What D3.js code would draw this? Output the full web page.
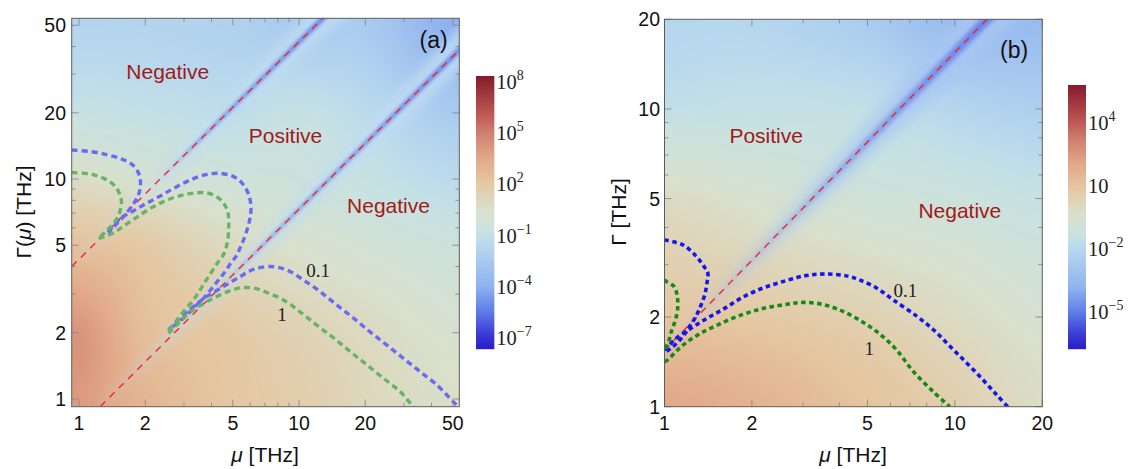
<!DOCTYPE html>
<html><head><meta charset="utf-8">
<script src="https://cdn.jsdelivr.net/npm/d3@7"></script>
<style>body{margin:0;background:#fff;} svg{display:block;}</style>
</head><body>
<script>
// ================= DATA =================
// ---- panel (a) ----
const aTicks = [1, 2, 5, 10, 20, 50];
const aGridMu = [1, 2, 5, 10, 20, 50];
const aGridGamma = [1, 2, 5, 10, 20, 50];
// log10 of the plotted quantity, rows = Γ (1..50), cols = μ (1..50)
const aLogField = [
  [4.0, 2.9, 2.1, 1.7, 1.1, 0.6],
  [4.2, 2.5, 1.9, 1.4, 0.9, 0.3],
  [2.4, 1.9, 0.9, 0.4, 0.0, -0.4],
  [0.7, 0.2, -0.2, -0.4, -0.8, -1.4],
  [-0.8, -1.0, -1.2, -0.9, -1.4, -2.4],
  [-1.8, -1.8, -2.0, -2.4, -2.4, -4.0]
];
const aRedLines = [
  [[0.926, 4.0], [12.8, 53.7]],
  [[1.25, 0.925], [53.5, 38.6]]
];
const aBlueUpper = [[0.926,13.55],[1.146,13.3],[1.36,12.85],[1.57,12.3],[1.74,11.66],[1.85,10.8],[1.90,9.9],[1.89,8.91],[1.83,8.17],[1.74,7.54],[1.65,7.03],[1.54,6.51],[1.44,6.07],[1.355,5.70]];
const aBlueMiddle = [[1.36,5.76],[1.54,6.62],[1.74,7.10],[2.0,7.70],[2.34,8.37],[2.74,9.16],[3.26,9.97],[3.82,10.5],[4.39,10.6],[5.05,10.25],[5.55,9.49],[5.91,8.46],[6.05,7.36],[5.94,6.40],[5.70,5.56],[5.41,4.89],[5.17,4.45],[4.90,4.15],[4.61,3.79],[4.30,3.47],[4.01,3.18],[3.74,2.92],[3.49,2.72],[3.25,2.54],[2.98,2.33],[2.73,2.17],[2.55,2.05]];
const aBlueLower = [[2.55,2.06],[2.88,2.33],[3.31,2.63],[3.80,2.92],[4.53,3.24],[5.39,3.60],[6.2,3.88],[7.38,4.0],[8.79,3.86],[10.5,3.47],[12.5,3.07],[14.8,2.68],[17.7,2.33],[21.0,2.02],[25.0,1.76],[29.8,1.53],[35.5,1.33],[42.2,1.16],[50.3,0.97],[54,0.90]];
const aGreenUpper = [[0.926,10.7],[1.146,10.5],[1.295,10.07],[1.413,9.55],[1.50,8.9],[1.556,8.03],[1.54,7.23],[1.49,6.62],[1.40,6.11],[1.318,5.76],[1.228,5.37]];
const aGreenMiddle = [[1.228,5.37],[1.413,5.65],[1.624,6.18],[1.867,6.79],[2.147,7.43],[2.47,7.97],[2.84,8.37],[3.26,8.61],[3.75,8.67],[4.17,8.37],[4.55,7.75],[4.76,6.98],[4.79,6.07],[4.74,5.28],[4.58,4.62],[4.30,4.21],[4.01,3.79],[3.74,3.41],[3.55,3.13],[3.31,2.82],[3.03,2.54],[2.83,2.33],[2.64,2.13],[2.50,1.99]];
const aGreenLower = [[2.55,1.99],[2.78,2.17],[3.09,2.41],[3.49,2.63],[4.08,2.87],[4.86,3.11],[5.58,3.21],[6.31,3.18],[7.13,3.05],[8.49,2.82],[10.1,2.49],[12.0,2.17],[14.3,1.90],[17.1,1.64],[20.3,1.43],[24.2,1.24],[28.8,1.08],[32.5,0.94],[34,0.89]];
const aContourLabels = [["0.1", 12.2, 3.83], ["1", 8.37, 2.43]];
const aRegionLabels = [["Negative", 2.53, 28.5], ["Positive", 8.68, 14.6], ["Negative", 25.5, 7.01]];
const aPanelTag = ["(a)", 40.9, 39.4];
const aBarTicks = [8, 5, 2, -1, -4, -7];
const aBarRange = [-7.65, 8.35];

// ---- panel (b) ----
const bTicks = [1, 2, 5, 10, 20];
const bGridMu = [1, 2, 5, 10, 20];
const bGridGamma = [1, 2, 5, 10, 20];
const bLogField = [
  [2.0, 1.65, 1.0, 0.5, -0.2],
  [0.9, 0.77, 0.4, -0.1, -0.6],
  [-0.1, -0.5, -0.9, -1.1, -1.4],
  [-1.6, -1.5, -1.6, -2.1, -2.4],
  [-2.1, -2.1, -2.6, -3.4, -3.4]
];
const bRedLines = [[[1.0, 1.55], [12.9, 20]]];
const bBlueUpper = [[1.0,3.63],[1.16,3.49],[1.29,3.19],[1.37,2.95],[1.41,2.81],[1.40,2.60],[1.375,2.37],[1.33,2.17],[1.28,2.0],[1.224,1.87],[1.167,1.74],[1.107,1.64],[1.05,1.57],[1.0,1.52]];
const bBlueLower = [[1.0,1.55],[1.10,1.70],[1.23,1.83],[1.40,1.98],[1.60,2.13],[1.83,2.31],[2.15,2.49],[2.52,2.62],[3.03,2.75],[3.6,2.79],[4.3,2.74],[4.72,2.66],[5.39,2.50],[6.15,2.28],[7.41,2.01],[8.45,1.81],[9.65,1.59],[11.0,1.40],[12.6,1.22],[14.0,1.09],[15.2,1.0]];
const bGreenUpper = [[1.0,2.67],[1.017,2.63],[1.08,2.53],[1.107,2.34],[1.11,2.14],[1.09,1.95],[1.06,1.81],[1.036,1.67],[1.004,1.55],[1.0,1.53]];
const bGreenLower = [[1.0,1.42],[1.02,1.43],[1.14,1.59],[1.30,1.74],[1.52,1.88],[1.83,2.03],[2.20,2.14],[2.65,2.21],[3.03,2.24],[3.55,2.20],[4.16,2.08],[4.87,1.91],[5.57,1.74],[6.3,1.55],[7.21,1.31],[8.45,1.12],[9.6,1.0]];
const bContourLabels = [["0.1", 6.75, 2.45], ["1", 5.07, 1.57]];
const bRegionLabels = [["Positive", 2.24, 7.69], ["Negative", 10.4, 4.30]];
const bPanelTag = ["(b)", 16.0, 14.8];
const bBarTicks = [4, 1, -2, -5];
const bBarRange = [-6.78, 5.81];

// ================= STYLE =================
const cmapT = [0, 0.05, 0.14, 0.23, 0.38, 0.43, 0.51, 0.61, 0.70, 0.79, 0.86, 1.0];
const cmapC = ['#2a1ec8','#3838d2','#5f7ee8','#8eb2f0','#b8d8ee','#c8e2e2','#d9e0cc','#e5c7a2','#e2a888','#d08070','#be5853','#861a2b'];
const cmap = d3.scaleLinear().domain(cmapT).range(cmapC).interpolate(d3.interpolateRgb).clamp(true);
const SANS = "'Liberation Sans', Arial, Helvetica, sans-serif";
const SERIF = "'Liberation Serif', 'Times New Roman', serif";

const svg = d3.select('body').append('svg').attr('width', 1137).attr('height', 469);
const defs = svg.append('defs');

function catmull(vals, fi) {
  const n = vals.length;
  let i = Math.floor(fi); if (i < 0) i = 0; if (i > n - 2) i = n - 2;
  const t = fi - i;
  const p0 = vals[Math.max(i - 1, 0)], p1 = vals[i], p2 = vals[i + 1], p3 = vals[Math.min(i + 2, n - 1)];
  return 0.5 * (2 * p1 + (-p0 + p2) * t + (2 * p0 - 5 * p1 + 4 * p2 - p3) * t * t + (-p0 + 3 * p1 - 3 * p2 + p3) * t * t * t);
}
function fracIndex(nodes, v) {
  const L = nodes.map(Math.log10); const lv = Math.log10(v);
  if (lv <= L[0]) return 0;
  if (lv >= L[L.length - 1]) return L.length - 1;
  for (let i = 0; i < L.length - 1; i++) {
    if (lv <= L[i + 1]) return i + (lv - L[i]) / (L[i + 1] - L[i]);
  }
  return L.length - 1;
}

function panel(cfg) {
  const { id, xs, ys, ticks, gridMu, gridGamma, field, barRange, redLines, curves, contourLabels, regionLabels, tag, valleys } = cfg;
  const [x0, x1] = xs.range(); const [yb, yt] = ys.range();
  const g = svg.append('g');
  defs.append('clipPath').attr('id', 'clip' + id).append('rect')
    .attr('x', x0).attr('y', yt).attr('width', x1 - x0).attr('height', yb - yt);
  const tOf = d3.scaleLinear().domain(barRange).range([0, 1]);

  // heatmap
  const W = Math.round(x1 - x0), H = Math.round(yb - yt);
  const cv = document.createElement('canvas'); cv.width = W; cv.height = H;
  const ctx = cv.getContext('2d'); const img = ctx.createImageData(W, H);
  for (let px = 0; px < W; px++) {
    const mu = xs.invert(x0 + (px + 0.5) * (x1 - x0) / W);
    const fm = fracIndex(gridMu, mu);
    const col = field.map(row => catmull(row, fm));
    for (let py = 0; py < H; py++) {
      const gam = ys.invert(yt + (py + 0.5) * (yb - yt) / H);
      const v = catmull(col, fracIndex(gridGamma, gam));
      const c = d3.rgb(cmap(tOf(v)));
      const k = (py * W + px) * 4;
      img.data[k] = c.r; img.data[k + 1] = c.g; img.data[k + 2] = c.b; img.data[k + 3] = 255;
    }
  }
  ctx.putImageData(img, 0, 0);
  const pg = g.append('g').attr('clip-path', `url(#clip${id})`);
  pg.append('image').attr('href', cv.toDataURL()).attr('x', x0).attr('y', yt)
    .attr('width', x1 - x0).attr('height', yb - yt).attr('preserveAspectRatio', 'none');

  // valleys along zero lines (blurred bands)
  valleys.forEach((v, vi) => {
    const L = redLines[v.line];
    const p0 = [xs(L[0][0]), ys(L[0][1])], p1 = [xs(L[1][0]), ys(L[1][1])];
    const dx = p1[0] - p0[0], dy = p1[1] - p0[1], len = Math.hypot(dx, dy);
    const nx = -dy / len, ny = dx / len;
    const e1 = [p1[0] + dx / len * 30, p1[1] + dy / len * 30];
    const gid = `vg${id}_${vi}`, fid = `vf${id}_${vi}`;
    const grad = defs.append('linearGradient').attr('id', gid).attr('gradientUnits', 'userSpaceOnUse')
      .attr('x1', p0[0]).attr('y1', p0[1]).attr('x2', p1[0]).attr('y2', p1[1]);
    v.stops.forEach(s => grad.append('stop').attr('offset', s[0]).attr('stop-color', v.color).attr('stop-opacity', s[1]));
    defs.append('filter').attr('id', fid).attr('x', '-50%').attr('y', '-50%').attr('width', '200%').attr('height', '200%')
      .append('feGaussianBlur').attr('stdDeviation', v.blur);
    const pts = [[p0[0] + nx * v.w0, p0[1] + ny * v.w0], [e1[0] + nx * v.w1, e1[1] + ny * v.w1],
                 [e1[0] - nx * v.w1, e1[1] - ny * v.w1], [p0[0] - nx * v.w0, p0[1] - ny * v.w0]];
    pg.append('path').attr('d', d3.line()(pts) + 'Z').attr('fill', `url(#${gid})`).attr('filter', `url(#${fid})`);
  });

  // red dashed lines
  redLines.forEach(L => {
    pg.append('line').attr('x1', xs(L[0][0])).attr('y1', ys(L[0][1])).attr('x2', xs(L[1][0])).attr('y2', ys(L[1][1]))
      .attr('stroke', cfg.redColor).attr('stroke-width', 1.4).attr('stroke-dasharray', '7,6');
  });

  // contours
  const line = d3.line().x(d => xs(d[0])).y(d => ys(d[1])).curve(d3.curveCatmullRom.alpha(0.5));
  curves.forEach(c => {
    pg.append('path').attr('d', line(c.data)).attr('fill', 'none').attr('stroke', c.color)
      .attr('stroke-width', c.width).attr('stroke-dasharray', c.dash);
  });

  // contour labels
  contourLabels.forEach(l => {
    g.append('text').attr('x', xs(l[1])).attr('y', ys(l[2])).attr('text-anchor', 'middle')
      .attr('dominant-baseline', 'central').attr('font-family', SERIF).attr('font-size', 19).attr('fill', '#222').text(l[0]);
  });
  regionLabels.forEach(l => {
    g.append('text').attr('x', xs(l[1])).attr('y', ys(l[2])).attr('text-anchor', 'middle')
      .attr('font-family', SANS).attr('font-size', 21).attr('fill', '#a01a1a').text(l[0]);
  });
  g.append('text').attr('x', xs(tag[1])).attr('y', ys(tag[2])).attr('text-anchor', 'middle')
    .attr('font-family', SANS).attr('font-size', 23).attr('fill', '#111').text(tag[0]);

  // frame ticks
  const minor = [];
  for (let d = -1; d <= 2; d++) for (let k = 1; k <= 9; k++) {
    const v = k * Math.pow(10, d);
    const dm = xs.domain();
    if (v >= dm[0] && v <= dm[1] && !ticks.includes(v)) minor.push(v);
  }
  const minorY = [];
  for (let d = -1; d <= 2; d++) for (let k = 1; k <= 9; k++) {
    const v = k * Math.pow(10, d);
    const dm = ys.domain();
    if (v >= dm[0] && v <= dm[1] && !ticks.includes(v)) minorY.push(v);
  }
  const tk = g.append('g').attr('stroke', '#8a8a8a').attr('stroke-width', 0.9);
  const addX = (v, len) => { const x = xs(v);
    tk.append('line').attr('x1', x).attr('x2', x).attr('y1', yb).attr('y2', yb - len);
    tk.append('line').attr('x1', x).attr('x2', x).attr('y1', yt).attr('y2', yt + len); };
  const addY = (v, len) => { const y = ys(v);
    tk.append('line').attr('y1', y).attr('y2', y).attr('x1', x0).attr('x2', x0 + len);
    tk.append('line').attr('y1', y).attr('y2', y).attr('x1', x1).attr('x2', x1 - len); };
  ticks.forEach(v => { addX(v, 7); addY(v, 7); });
  minor.forEach(v => addX(v, 4));
  minorY.forEach(v => addY(v, 4));
  g.append('rect').attr('x', x0).attr('y', yt).attr('width', x1 - x0).attr('height', yb - yt)
    .attr('fill', 'none').attr('stroke', '#5c5c5c').attr('stroke-width', 1);

  // tick labels
  ticks.forEach(v => {
    g.append('text').attr('x', xs(v)).attr('y', 430).attr('text-anchor', 'middle')
      .attr('font-family', SANS).attr('font-size', 19.5).attr('fill', '#111').text(v);
    g.append('text').attr('x', cfg.yLabelRight).attr('y', ys(v)).attr('text-anchor', 'end')
      .attr('dominant-baseline', 'central').attr('font-family', SANS).attr('font-size', 19.5).attr('fill', '#111').text(v);
  });

  // axis titles
  const xt = g.append('text').attr('x', cfg.xTitleX).attr('y', 462).attr('text-anchor', 'middle')
    .attr('font-family', SANS).attr('font-size', 21).attr('fill', '#111');
  xt.append('tspan').attr('font-style', 'italic').text('μ');
  xt.append('tspan').text(' [THz]');
  const yt2 = g.append('text').attr('transform', `translate(${cfg.yTitleX},212) rotate(-90)`)
    .attr('text-anchor', 'middle').attr('dominant-baseline', 'central')
    .attr('font-family', SANS).attr('font-size', 21).attr('fill', '#111');
  if (cfg.yTitleMu) {
    yt2.append('tspan').text('Γ(');
    yt2.append('tspan').attr('font-style', 'italic').text('μ');
    yt2.append('tspan').text(') [THz]');
  } else {
    yt2.append('tspan').text('Γ [THz]');
  }

  // colorbar
  const cb = cfg.bar;
  const cs = d3.scaleLinear().domain(barRange).range([cb.y1, cb.y0]);
  const rows = d3.range(Math.floor(cb.y0), Math.ceil(cb.y1));
  g.append('g').selectAll('rect').data(rows).join('rect')
    .attr('x', cb.x).attr('y', d => d).attr('width', cb.w).attr('height', 1.2)
    .attr('fill', d => cmap(tOf(cs.invert(d + 0.5))));
  cfg.barTicks.forEach(v => {
    const t = g.append('text').attr('x', cb.x + cb.w + 2).attr('y', cs(v) + 7)
      .attr('font-family', SERIF).attr('font-size', 20.5).attr('fill', '#222');
    t.append('tspan').text('10');
    if (v !== 1) t.append('tspan').attr('dy', -9).attr('font-size', 14)
      .text(v < 0 ? '\u2212' + (-v) : String(v));
  });
}

// panel (a)
panel({
  id: 'a',
  xs: d3.scaleLog().domain([0.926, 53.5]).range([71.7, 459.3]),
  ys: d3.scaleLog().domain([0.922, 53.8]).range([406.7, 18.3]),
  ticks: aTicks, gridMu: aGridMu, gridGamma: aGridGamma, field: aLogField, barRange: aBarRange,
  redLines: aRedLines, redColor: '#f02828',
  curves: [
    { data: aBlueUpper, color: '#6a6af2', width: 3.4, dash: '6,4' },
    { data: aBlueMiddle, color: '#6a6af2', width: 3.4, dash: '6,4' },
    { data: aBlueLower, color: '#6a6af2', width: 3.4, dash: '6,4' },
    { data: aGreenUpper, color: '#66b466', width: 3.4, dash: '6,4' },
    { data: aGreenMiddle, color: '#66b466', width: 3.4, dash: '6,4' },
    { data: aGreenLower, color: '#66b466', width: 3.4, dash: '6,4' }
  ],
  contourLabels: aContourLabels, regionLabels: aRegionLabels, tag: aPanelTag,
  valleys: [
    { line: 0, color: '#c0dcf2', w0: 4, w1: 16, blur: 5, stops: [[0, 0.1], [0.35, 0.4], [1, 0.8]] },
    { line: 0, color: '#6f8fea', w0: 1, w1: 3, blur: 1.5, stops: [[0, 0], [0.35, 0], [0.5, 0.6], [1, 0.95]] },
    { line: 1, color: '#c0dcf2', w0: 4, w1: 16, blur: 5, stops: [[0, 0.15], [0.3, 0.45], [1, 0.8]] },
    { line: 1, color: '#6f8fea', w0: 1, w1: 3, blur: 1.5, stops: [[0, 0], [0.3, 0], [0.45, 0.5], [1, 0.95]] }
  ],
  yLabelRight: 66, xTitleX: 265, yTitleX: 23, yTitleMu: true,
  bar: { x: 476, w: 18.3, y0: 76, y1: 349 }, barTicks: aBarTicks
});

// panel (b)
panel({
  id: 'b',
  xs: d3.scaleLog().domain([1, 20]).range([664.5, 1042.3]),
  ys: d3.scaleLog().domain([1, 20]).range([406.7, 19.3]),
  ticks: bTicks, gridMu: bGridMu, gridGamma: bGridGamma, field: bLogField, barRange: bBarRange,
  redLines: bRedLines, redColor: '#f02828',
  curves: [
    { data: bBlueUpper, color: '#1515f0', width: 3.6, dash: '4.5,3.5' },
    { data: bBlueLower, color: '#1515f0', width: 3.6, dash: '4.5,3.5' },
    { data: bGreenUpper, color: '#168a16', width: 3.6, dash: '4.5,3.5' },
    { data: bGreenLower, color: '#168a16', width: 3.6, dash: '4.5,3.5' }
  ],
  contourLabels: bContourLabels, regionLabels: bRegionLabels, tag: bPanelTag,
  valleys: [
    { line: 0, color: '#a8c6f2', w0: 3, w1: 22, blur: 6, stops: [[0, 0.15], [0.35, 0.4], [1, 0.9]] },
    { line: 0, color: '#6680ea', w0: 1, w1: 5, blur: 2, stops: [[0, 0], [0.35, 0.25], [1, 0.95]] }
  ],
  yLabelRight: 660, xTitleX: 853, yTitleX: 618, yTitleMu: false,
  bar: { x: 1068, w: 18, y0: 85, y1: 349 }, barTicks: bBarTicks
});
</script>
</body></html>
